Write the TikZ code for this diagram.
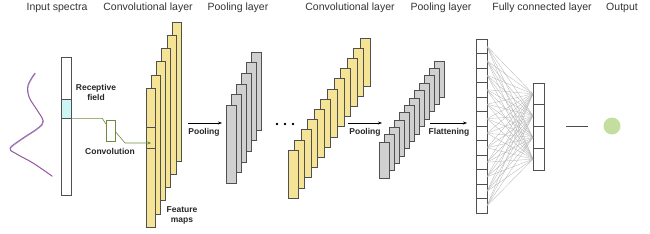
\documentclass[tikz,border=0pt]{standalone}
\usepackage{fontspec}
\setmainfont{Liberation Sans}
\usetikzlibrary{arrows.meta,calc}
\definecolor{ylw}{RGB}{245,228,150}
\definecolor{edgec}{RGB}{80,80,80}
\definecolor{gry}{RGB}{208,208,208}
\definecolor{cyn}{RGB}{205,245,245}
\definecolor{olv}{RGB}{110,140,60}
\definecolor{outg}{RGB}{196,222,160}
\definecolor{spc}{RGB}{120,110,210}
\definecolor{spr}{RGB}{185,70,100}
\begin{document}
\begin{tikzpicture}[x=1pt,y=-1pt,
  title/.style={font=\fontsize{10.5}{12}\selectfont, text=black!80, inner sep=0},
  lbl/.style={font=\bfseries\fontsize{8.5}{10}\selectfont, text=black!85, inner sep=0, align=center},
  ymap/.style={draw=edgec, fill=ylw, line width=0.6pt, inner sep=0, outer sep=0},
  gmap/.style={draw=edgec, fill=gry, line width=0.6pt, inner sep=0, outer sep=0},
  cellbox/.style={draw=edgec, fill=white, line width=0.6pt, inner sep=0, outer sep=0, minimum width=11pt},
  fcline/.style={draw=black!30, line width=0.3pt},
  arr/.style={-{Stealth[length=4pt,width=3pt]}, line width=0.7pt, black},
  dotn/.style={circle, fill=black, inner sep=0, minimum size=2.6pt}
]
\useasboundingbox (0,0) rectangle (650,233);

% titles
\node[title] (t1) at (57,8) {Input spectra};
\node[title] (t2) at (148,8) {Convolutional layer};
\node[title] (t3) at (238,8) {Pooling layer};
\node[title] (t4) at (350,8) {Convolutional layer};
\node[title] (t5) at (441,8) {Pooling layer};
\node[title] (t6) at (542,8) {Fully connected layer};
\node[title] (t7) at (622,8) {Output};

% spectrum
\draw[spc, line width=0.9pt] plot[smooth, tension=0.6] coordinates {(35,73) (28,85) (29,97) (37,110) (43,121) (38,128) (23,138) (10,148) (15,153) (33,163) (52,176)};
\draw[spr, line width=0.7pt, opacity=0.6] plot[smooth, tension=0.6] coordinates {(35.5,73.5) (28.5,85.5) (29.5,97.5) (37.5,110.5) (43.5,121.5) (38.5,128.5) (23.5,138.5) (10.5,148.5) (15.5,153.5) (33.5,163.5) (52.5,176.5)};

% input column
\node[draw=edgec, fill=white, line width=0.6pt, inner sep=0, minimum width=10pt, minimum height=138pt] (inp) at (66,126) {};
\node[draw=edgec, fill=cyn, line width=0.6pt, inner sep=0, minimum width=10pt, minimum height=19pt] (rf) at (66,108.5) {};
\node[lbl] (rft) at (96,92) {Receptive\\field};

% first conv layer
\foreach \i in {5,...,0}
  \node[ymap, minimum width=9pt, minimum height=139pt] (ca\i) at ({150.5+5.2*\i},{157.5-13.2*\i}) {};
\draw[edgec, line width=0.5pt] (146,127) -- (155,127);
\draw[edgec, line width=0.5pt] (146,148) -- (155,148);
\node[lbl] (fmt) at (182,215.5) {Feature\\maps};

% convolution kernel box and connector
\node[draw=olv, fill=white, line width=0.6pt, inner sep=0, minimum width=9pt, minimum height=21pt] (cbox) at (110.5,130.5) {};
\node[lbl] (cvt) at (110,151) {Convolution};
\coordinate (fm) at (151,143);
\draw[olv, line width=0.6pt] (rf.south east) -- ++(31,0) -- ($(cbox.north west)+(0,4)$);
\draw[olv, line width=0.6pt, -{Stealth[length=3.5pt,width=3pt]}] ($(cbox.east)+(0,1)$) -- (125,143) -- (fm);

% pooling 1
\coordinate (p1s) at (188,123);
\coordinate (p1e) at (222,123);
\draw[arr] (p1s) -- (p1e);
\node[lbl] (p1t) at (204,132) {Pooling};
\foreach \i in {5,...,0}
  \node[gmap, minimum width=10pt, minimum height=78pt] (pa\i) at ({231+5.1*\i},{144-10.6*\i}) {};

% dots
\node[dotn] (d1) at (277,124) {};
\node[dotn] (d2) at (285,124) {};
\node[dotn] (d3) at (293,124) {};

% second conv layer
\foreach \i in {11,...,0}
  \node[ymap, minimum width=10pt, minimum height=48pt] (cb\i) at ({293+6.55*\i},{174-10.2*\i}) {};

% pooling 2
\coordinate (p2s) at (348,123);
\coordinate (p2e) at (382,123);
\draw[arr] (p2s) -- (p2e);
\node[lbl] (p2t) at (365,132) {Pooling};
\foreach \i in {11,...,0}
  \node[gmap, minimum width=10pt, minimum height=36pt] (pb\i) at ({384.5+5.0*\i},{160-7.36*\i}) {};

% flattening
\coordinate (p3s) at (430,123);
\coordinate (p3e) at (467,123);
\draw[arr] (p3s) -- (p3e);
\node[lbl] (p3t) at (449,132) {Flattening};

% flatten column and FC layer
\foreach \i in {1,...,12}
  \node[cellbox, minimum height=14.5pt] (f\i) at (481.5,{39+14.5*(\i-0.5)}) {};
\foreach \j in {1,...,4}
  \node[cellbox, minimum height=21.75pt] (g\j) at (538.5,{83+21.75*(\j-0.5)}) {};
\foreach \i in {1,...,12}
  \foreach \j in {1,...,4}
    \draw[fcline] (f\i.east) -- (g\j.west);

% output
\node[circle, fill=outg, inner sep=0, minimum size=17pt] (out) at (612,126) {};
\coordinate (ol1) at (566,126);
\coordinate (ol2) at (588,126);
\draw[black!70, line width=0.7pt] (ol1) -- (ol2);
\end{tikzpicture}
\end{document}
